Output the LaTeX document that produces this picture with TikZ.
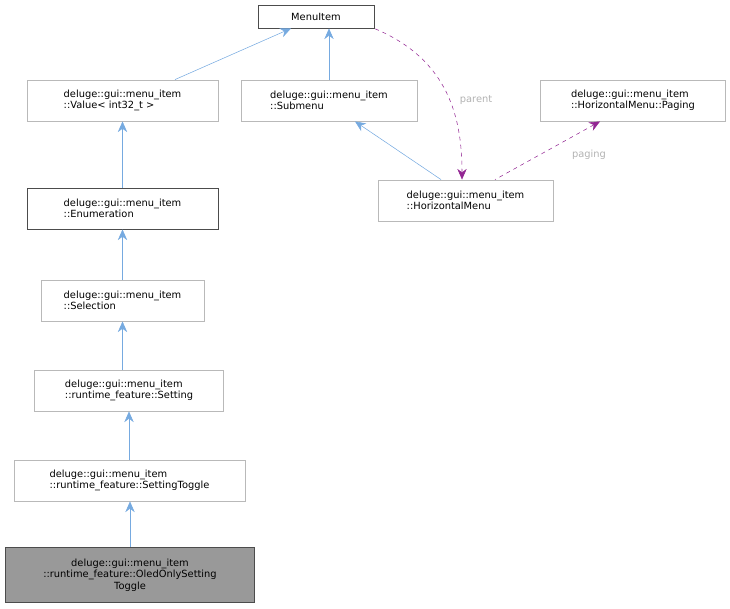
\documentclass[tikz,border=0pt]{standalone}
\usepackage{fontspec}
\setmainfont{DejaVu Sans}
\usetikzlibrary{arrows.meta}

\begin{document}
\begin{tikzpicture}[x=0.75pt, y=-0.75pt, font=\fontsize{7.4}{8.6}\selectfont,
    cls/.style={draw=gray!55, fill=white, align=left, inner sep=0pt, anchor=center},
    inherit/.style={draw=cyan!60!blue!55, {Stealth[length=8pt, width=7pt, fill=cyan!60!blue!55]}-},
    usage/.style={draw=violet!85, dashed, {Stealth[length=8pt, width=7pt, fill=violet!85]}-},
    elabel/.style={text=gray!60}]
    \useasboundingbox (0,0) rectangle (730,608);

    % classes
    \node[cls, draw=black!70, minimum width=87pt, minimum height=17.5pt] (menuitem) at (316,16.5) {MenuItem};
    \node[cls, minimum width=143pt, minimum height=31pt] (value) at (122.5,100.5)
        {deluge::gui::menu\_item\\::Value< int32\_t >};
    \node[cls, minimum width=132pt, minimum height=31pt] (submenu) at (329,100.5)
        {deluge::gui::menu\_item\\::Submenu};
    \node[cls, minimum width=139pt, minimum height=31pt] (paging) at (633,100.5)
        {deluge::gui::menu\_item\\::HorizontalMenu::Paging};
    \node[cls, draw=black!70, minimum width=143pt, minimum height=31pt] (enum) at (122.5,208.5)
        {deluge::gui::menu\_item\\::Enumeration};
    \node[cls, minimum width=131pt, minimum height=31pt] (hmenu) at (465.5,200.5)
        {deluge::gui::menu\_item\\::HorizontalMenu};
    \node[cls, minimum width=122pt, minimum height=31pt] (selection) at (122.5,300.5)
        {deluge::gui::menu\_item\\::Selection};
    \node[cls, minimum width=142pt, minimum height=31pt] (setting) at (129,390.5)
        {deluge::gui::menu\_item\\::runtime\_feature::Setting};
    \node[cls, minimum width=173pt, minimum height=31pt] (toggle) at (129.5,480.5)
        {deluge::gui::menu\_item\\::runtime\_feature::SettingToggle};
    \node[cls, draw=black!70, fill=gray!80, align=center, minimum width=187pt, minimum height=41pt] (oled) at (130,575)
        {deluge::gui::menu\_item\\::runtime\_feature::OledOnlySetting\\Toggle};

    % inheritance
    \draw[inherit] (menuitem.south) ++(-25,0) -- (value.north -| 175,0);
    \draw[inherit] (menuitem.south -| submenu) -- (submenu.north);
    \draw[inherit] (submenu.south -| 355,0) -- (hmenu.north -| 441,0);
    \draw[inherit] (value.south) -- (enum.north);
    \draw[inherit] (enum.south) -- (selection.north);
    \draw[inherit] (selection.south) -- (setting.north -| selection);
    \draw[inherit] (setting.south) -- (toggle.north -| setting);
    \draw[inherit] (toggle.south -| oled) -- (oled.north);

    % usage
    \draw[usage] (hmenu.north -| 462,0) .. controls (462,120) and (450,60) .. (menuitem.south east);
    \node[elabel] (lparent) at (476,100) {parent};
    \draw[usage] (paging.south -| 600,0) -- (hmenu.north -| 495,0);
    \node[elabel] (lpaging) at (589,155) {paging};
\end{tikzpicture}
\end{document}
